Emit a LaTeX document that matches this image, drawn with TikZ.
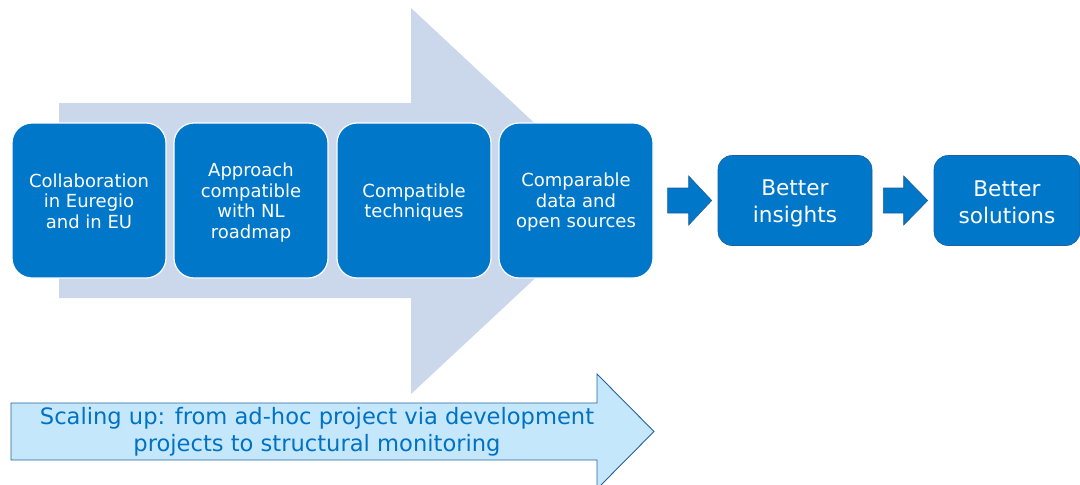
\documentclass[tikz,border=0pt]{standalone}
\usepackage{fontspec}
\setmainfont{DejaVu Sans}
\usetikzlibrary{calc}

\definecolor{flowback}{RGB}{203,215,234}
\definecolor{stepblue}{RGB}{0,119,200}
\definecolor{stepedge}{RGB}{28,96,160}
\definecolor{scalefill}{RGB}{197,231,252}
\definecolor{scaleedge}{RGB}{38,98,158}
\definecolor{scaletext}{RGB}{0,114,196}

\tikzset{
  stepbox/.style={rectangle, rounded corners=20pt, fill=stepblue, draw=white,
    line width=1.2pt, minimum width=154pt, minimum height=155pt, inner sep=2pt},
  steplabel/.style={text=white, align=center, inner sep=0pt,
    font=\fontsize{18}{20.5}\selectfont},
  resultbox/.style={rectangle, rounded corners=14pt, fill=stepblue, draw=stepedge,
    line width=0.6pt, minimum width=154pt, minimum height=90pt, inner sep=2pt},
  resultlabel/.style={text=white, align=center, inner sep=0pt,
    font=\fontsize{21.6}{27}\selectfont},
  blockarrow/.style={fill=stepblue, draw=stepedge, line width=0.6pt},
}

\begin{document}
\begin{tikzpicture}[x=1pt, y=-1pt]
  \useasboundingbox (0,0) rectangle (1080,485);

  % wide background arrow behind the four steps
  \fill[flowback] (59,103) -- (411,103) -- (411,8) -- (618,201)
    -- (411,394) -- (411,298) -- (59,298) -- cycle;

  % the four steps
  \node[stepbox] (s1) at (89,200.5) {};
  \node[steplabel] (s1l) at ($(s1.center)+(0,0.5)$) {Collaboration\\in Euregio\\and in EU};
  \node[stepbox] (s2) at (251,200.5) {};
  \node[steplabel] (s2l) at ($(s2.center)+(0,2)$) {Approach\\compatible\\with NL\\roadmap};
  \node[stepbox] (s3) at (414,200.5) {};
  \node[steplabel] (s3l) at ($(s3.center)+(0,2)$) {Compatible\\techniques};
  \node[stepbox] (s4) at (576,200.5) {};
  \node[steplabel] (s4l) at ($(s4.center)+(0,2)$) {Comparable\\data and\\open sources};

  % results
  \node[resultbox] (ins) at (795,200.5) {};
  \node[resultlabel] (insl) at ($(ins.center)+(0,3)$) {Better\\insights};
  \node[resultbox, minimum width=146pt] (sol) at (1007,200.5) {};
  \node[resultlabel] (soll) at ($(sol.center)+(0,2)$) {Better\\solutions};

  % block arrows between steps and results
  \coordinate (a1s) at ($(s4.east)+(14,0)$);
  \coordinate (a1t) at ($(ins.west)+(-6,0)$);
  \draw[blockarrow] ($(a1s)+(0,-12.5)$) -- ($(a1t)+(-23,-12.5)$) -- ($(a1t)+(-23,-24.5)$)
    -- (a1t) -- ($(a1t)+(-23,24.5)$) -- ($(a1t)+(-23,12.5)$) -- ($(a1s)+(0,12.5)$) -- cycle;

  \coordinate (a2s) at ($(ins.east)+(11,0)$);
  \coordinate (a2t) at ($(sol.west)+(-6,0)$);
  \draw[blockarrow] ($(a2s)+(0,-12.5)$) -- ($(a2t)+(-24,-12.5)$) -- ($(a2t)+(-24,-24.5)$)
    -- (a2t) -- ($(a2t)+(-24,24.5)$) -- ($(a2t)+(-24,12.5)$) -- ($(a2s)+(0,12.5)$) -- cycle;

  % scaling-up arrow
  \draw[fill=scalefill, draw=scaleedge, line width=0.9pt]
    (11,403) -- (597,403) -- (597,374) -- (654,431.5) -- (597,489)
    -- (597,460) -- (11,460) -- cycle;
  \node[text=scaletext, align=center, font=\fontsize{22.6}{27.5}\selectfont]
    (scale) at (317,432) {Scaling up: from ad-hoc project via development\\projects to structural monitoring};
\end{tikzpicture}
\end{document}
